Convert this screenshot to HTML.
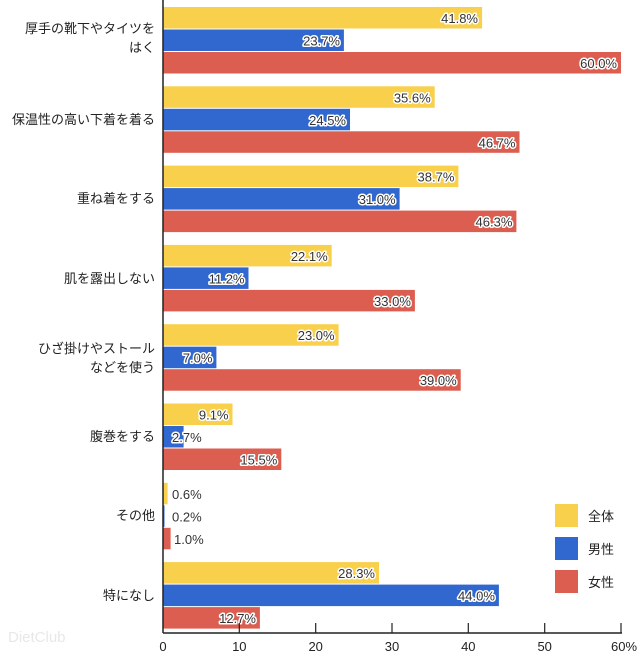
<!DOCTYPE html>
<html><head><meta charset="utf-8"><style>
body{margin:0;background:#fff;}
svg text{font-family:"Liberation Sans","Noto Sans CJK JP",sans-serif;}
.v{font-size:13px;fill:#333;stroke:#fff;stroke-width:3px;paint-order:stroke;stroke-linejoin:round;}
.c{font-size:13px;fill:#222;}
.y{fill:#f8d04c}.b{fill:#3068d0}.r{fill:#dc5e50}
</style></head><body>
<svg width="640" height="653" xmlns="http://www.w3.org/2000/svg">
<g>
<rect class="y" x="163" y="7" width="319.1" height="21.5"/>
<rect class="b" x="163" y="29.5" width="180.9" height="21.5"/>
<rect class="r" x="163" y="52" width="458" height="21.5"/>
<rect class="y" x="163" y="86.3" width="271.7" height="21.5"/>
<rect class="b" x="163" y="108.8" width="187" height="21.5"/>
<rect class="r" x="163" y="131.3" width="356.5" height="21.5"/>
<rect class="y" x="163" y="165.6" width="295.4" height="21.5"/>
<rect class="b" x="163" y="188.1" width="236.6" height="21.5"/>
<rect class="r" x="163" y="210.6" width="353.4" height="21.5"/>
<rect class="y" x="163" y="244.9" width="168.7" height="21.5"/>
<rect class="b" x="163" y="267.4" width="85.5" height="21.5"/>
<rect class="r" x="163" y="289.9" width="251.9" height="21.5"/>
<rect class="y" x="163" y="324.2" width="175.6" height="21.5"/>
<rect class="b" x="163" y="346.7" width="53.4" height="21.5"/>
<rect class="r" x="163" y="369.2" width="297.7" height="21.5"/>
<rect class="y" x="163" y="403.5" width="69.5" height="21.5"/>
<rect class="b" x="163" y="426" width="20.6" height="21.5"/>
<rect class="r" x="163" y="448.5" width="118.3" height="21.5"/>
<rect class="y" x="163" y="482.8" width="4.6" height="21.5"/>
<rect class="b" x="163" y="505.3" width="1.5" height="21.5"/>
<rect class="r" x="163" y="527.8" width="7.6" height="21.5"/>
<rect class="y" x="163" y="562.1" width="216" height="21.5"/>
<rect class="b" x="163" y="584.6" width="335.9" height="21.5"/>
<rect class="r" x="163" y="607.1" width="96.9" height="21.5"/>
</g>
<g class="v" text-anchor="end">
<text x="478" y="23">41.8%</text><text x="340" y="45.5">23.7%</text><text x="617" y="68">60.0%</text>
<text x="430.7" y="102.3">35.6%</text><text x="346" y="124.8">24.5%</text><text x="515.5" y="147.3">46.7%</text>
<text x="454.4" y="181.6">38.7%</text><text x="395.6" y="204.1">31.0%</text><text x="512.4" y="226.6">46.3%</text>
<text x="327.7" y="260.9">22.1%</text><text x="244.5" y="283.4">11.2%</text><text x="410.9" y="305.9">33.0%</text>
<text x="334.6" y="340.2">23.0%</text><text x="212.4" y="362.7">7.0%</text><text x="456.7" y="385.2">39.0%</text>
<text x="228.5" y="419.5">9.1%</text><text x="277.3" y="464.5">15.5%</text>
<text x="375" y="578.1">28.3%</text><text x="494.9" y="600.6">44.0%</text><text x="256" y="623.1">12.7%</text>
</g>
<g class="v">
<text x="172" y="442">2.7%</text>
<text x="172" y="498.8">0.6%</text><text x="172" y="521.3">0.2%</text><text x="174" y="543.8">1.0%</text>
</g>
<line x1="163" y1="0" x2="163" y2="633" stroke="#222" stroke-width="1.5"/>
<line x1="163" y1="633" x2="622" y2="633" stroke="#222" stroke-width="1.5"/>
<g stroke="#222" stroke-width="1.2">
<line x1="239.3" y1="623" x2="239.3" y2="633"/><line x1="315.7" y1="623" x2="315.7" y2="633"/>
<line x1="392" y1="623" x2="392" y2="633"/><line x1="468.3" y1="623" x2="468.3" y2="633"/>
<line x1="544.7" y1="623" x2="544.7" y2="633"/><line x1="621" y1="623" x2="621" y2="633"/>
</g>
<g class="c" text-anchor="middle">
<text x="163" y="651">0</text><text x="239.3" y="651">10</text><text x="315.7" y="651">20</text>
<text x="392" y="651">30</text><text x="468.3" y="651">40</text><text x="544.7" y="651">50</text><text x="624" y="651">60%</text>
</g>
<g class="c" text-anchor="end">
<text x="155" y="33">厚手の靴下やタイツを</text><text x="155" y="52">はく</text>
<text x="155" y="124">保温性の高い下着を着る</text>
<text x="155" y="203">重ね着をする</text>
<text x="155" y="283">肌を露出しない</text>
<text x="155" y="353">ひざ掛けやストール</text><text x="155" y="372">などを使う</text>
<text x="155" y="441">腹巻をする</text>
<text x="155" y="520">その他</text>
<text x="155" y="600">特になし</text>
</g>
<rect x="555" y="504" width="23" height="23" fill="#f8d04c"/>
<rect x="555" y="537" width="23" height="23" fill="#3068d0"/>
<rect x="555" y="570" width="23" height="23" fill="#dc5e50"/>
<g class="c"><text x="588" y="521">全体</text><text x="588" y="554">男性</text><text x="588" y="587">女性</text></g>
<text x="8" y="642" font-size="15" fill="#e8e8e8">DietClub</text>
</svg>
</body></html>
